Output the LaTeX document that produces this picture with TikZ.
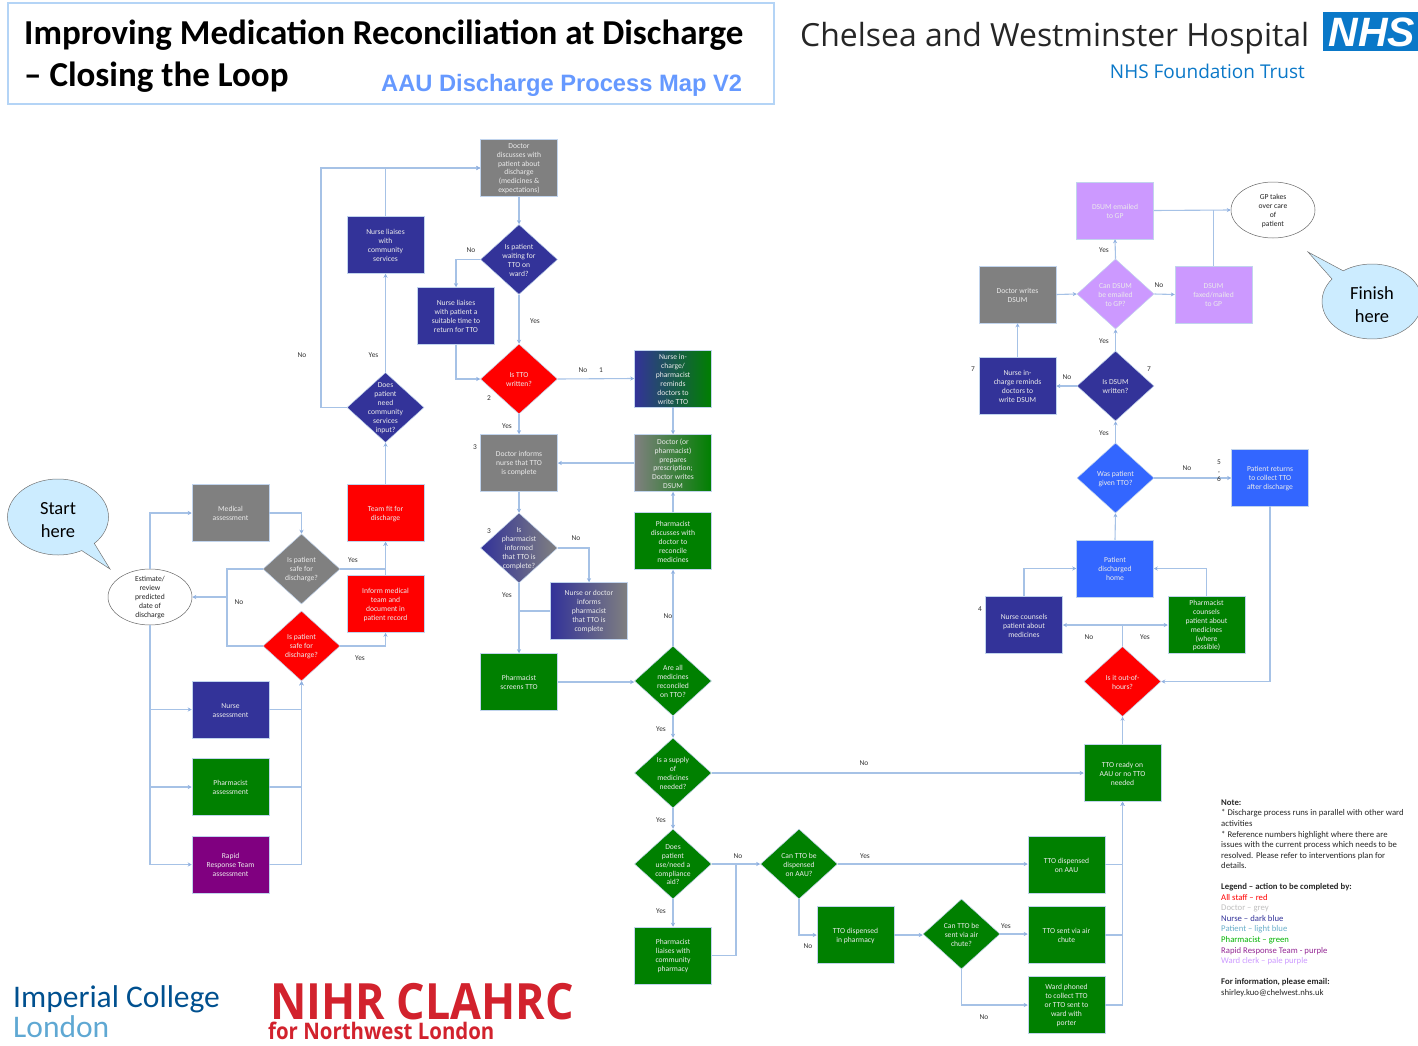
\documentclass[tikz,border=0pt]{standalone}
\usepackage{fontspec}
\setmainfont{Carlito}
\newfontfamily\arialf{Liberation Sans}
\newfontfamily\hospf{Open Sans}
\newfontfamily\nihrf[FakeStretch=0.895]{Open Sans}
\usetikzlibrary{arrows.meta,shapes.geometric,shapes.callouts}
\definecolor{edgec}{HTML}{A6C2E6}
\definecolor{tipc}{HTML}{8FB0E0}
\definecolor{dgrey}{HTML}{808080}
\definecolor{dblue}{HTML}{333399}
\definecolor{lblue}{HTML}{3366FF}
\definecolor{dgreen}{HTML}{008000}
\definecolor{dpurple}{HTML}{800080}
\definecolor{ppurple}{HTML}{CC99FF}
\definecolor{dred}{HTML}{FF0000}
\definecolor{bubble}{HTML}{CCECFF}
\definecolor{labc}{HTML}{333333}
\definecolor{nhs}{HTML}{0A78C8}
\definecolor{impa}{HTML}{00508F}
\definecolor{impb}{HTML}{5FA8D3}
\definecolor{nihr}{HTML}{D2222D}
\definecolor{hdrc}{HTML}{B4D4F6}
\definecolor{subt}{HTML}{6699FF}
\tikzset{
 shp/.style={draw=edgec!70!white,line width=.5pt,inner sep=0pt},
 box/.style={shp,rectangle,minimum width=77,minimum height=57},
 dia/.style={shp,diamond,minimum width=77,minimum height=70},
 dtxt/.style={text=white!92!black,align=center,inner sep=0pt,yshift=-0.7pt,font=\fontsize{7.6}{8.9}\selectfont},
 etxt/.style={text=black!85,align=center,inner sep=0pt,yshift=-0.7pt,font=\fontsize{7.6}{8.9}\selectfont},
 oval/.style={ellipse,draw=black!60,line width=.5pt,fill=white,minimum width=84,minimum height=56,inner sep=0pt},
 bub/.style={ellipse callout,draw=black!55,line width=.5pt,fill=bubble,inner sep=0pt,callout pointer arc=18},
 btxt/.style={align=center,inner sep=0pt,yshift=-3pt,font=\fontsize{18.5}{23}\selectfont},
 lab/.style={text=labc,inner sep=0pt,font=\fontsize{7.4}{8.9}\selectfont},
 ln/.style={draw=edgec,line width=1.1pt},
 ar/.style={ln,-{Stealth[length=4pt,width=4pt,color=tipc]}},
}
\newcommand{\Dia}[5]{\node[dia,#2,label={[dtxt]center:#5}] (#1) at (#3,#4) {};}
\newcommand{\Bx}[5]{\node[box,#2,label={[dtxt]center:#5}] (#1) at (#3,#4) {};}
\begin{document}
\begin{tikzpicture}[x=1pt,y=-1pt]
\useasboundingbox (0,0) rectangle (1418,1046);
% header
\node[draw=hdrc,line width=1.6pt,minimum width=766,minimum height=101,inner sep=0pt] (hdr) at (391,53.5) {};
\node[anchor=west,inner sep=0pt,font=\fontsize{35}{38}\selectfont\bfseries] (t1) at (24,35.5) {Improving Medication Reconciliation at Discharge};
\node[anchor=west,inner sep=0pt,font=\fontsize{35}{38}\selectfont\bfseries] (t2) at (24,77.5) {– Closing the Loop};
\node[anchor=west,inner sep=0pt,text=subt,font=\arialf\fontsize{23.7}{28}\selectfont\bfseries] (t3) at (381,85.5) {AAU Discharge Process Map V2};
\node[anchor=west,inner sep=0pt,text=black!85,font=\hospf\fontsize{31.9}{35}\selectfont] (hosp) at (800,38.5) {Chelsea and Westminster Hospital};
\node[anchor=east,inner sep=0pt,text=nhs,font=\hospf\fontsize{19}{23}\selectfont] (ft) at (1305,71) {NHS Foundation Trust};
\node[fill=nhs,minimum width=96,minimum height=39,inner sep=0pt] (nhsb) at (1371,31.5) {};
\node[text=white,inner sep=0pt,font=\arialf\fontsize{41}{44}\selectfont\bfseries\itshape] (nhst) at (1372,32) {NHS};
% logos
\node[anchor=base west,inner sep=0pt,text=impa,font=\fontsize{31.5}{34}\selectfont] (imp) at (13,1007) {Imperial College};
\node[anchor=base west,inner sep=0pt,text=impb,font=\fontsize{31.5}{34}\selectfont] (lon) at (13,1037) {London};
\node[anchor=base west,inner sep=0pt,text depth=0pt,text=nihr,font=\nihrf\fontsize{50}{54}\selectfont\bfseries] (nh) at (270,1019) {NIHR CLAHRC};
\node[anchor=base west,inner sep=0pt,text height=15pt,text=nihr,font=\nihrf\fontsize{22.8}{26}\selectfont\bfseries] (nw) at (268,1039) {for Northwest London};
% callouts
\node[bub,minimum width=101,minimum height=76,callout absolute pointer={(110,569)},label={[btxt]center:Start\\here}] (start) at (58,517) {};
\node[bub,minimum width=100,minimum height=75,callout absolute pointer={(1308,252)},label={[btxt]center:Finish\\here}] (finish) at (1372,301.5) {};
% left column
\node[oval,label={[etxt]center:Estimate/\\review\\predicted\\date of\\discharge}] (est) at (150,597) {};
\Bx{med}{fill=dgrey}{230.5}{513}{Medical\\assessment}
\Bx{nas}{fill=dblue}{230.5}{709.5}{Nurse\\assessment}
\Bx{pas}{fill=dgreen}{230.5}{787}{Pharmacist\\assessment}
\Bx{rrt}{fill=dpurple}{230.5}{864.5}{Rapid\\Response Team\\assessment}
\Dia{sg}{fill=dgrey}{301.5}{569}{Is patient\\safe for\\discharge?}
\Dia{sr}{fill=dred}{301.5}{646}{Is patient\\safe for\\discharge?}
\Bx{team}{fill=dred}{385.5}{513}{Team fit for\\discharge}
\Bx{inf}{fill=dred}{385.5}{604}{Inform medical\\team and\\document in\\patient record}
\Dia{dcs}{fill=dblue}{385.5}{407.5}{Does\\patient\\need\\community\\services\\input?}
\Bx{nlc}{fill=dblue}{385.5}{245}{Nurse liaises\\with\\community\\services}
% middle column
\Bx{doc}{fill=dgrey}{519}{168}{Doctor\\discusses with\\patient about\\discharge\\(medicines \&\\expectations)}
\Dia{wait}{fill=dblue}{519}{259.5}{Is patient\\waiting for\\TTO on\\ward?}
\Bx{nlp}{fill=dblue}{456}{316}{Nurse liaises\\with patient a\\suitable time to\\return for TTO}
\Dia{ttow}{fill=dred}{519}{379}{Is TTO\\written?}
\Bx{nic}{left color=dblue,right color=dgreen}{673}{378.5}{Nurse in-\\charge/\\pharmacist\\reminds\\doctors to\\write TTO}
\Bx{dop}{left color=dgrey,right color=dgreen}{673}{463}{Doctor (or\\pharmacist)\\prepares\\prescription;\\Doctor writes\\DSUM}
\Bx{dinf}{fill=dgrey}{519}{463}{Doctor informs\\nurse that TTO\\is complete}
\Dia{pinf}{left color=dblue,right color=dgrey}{519}{548}{Is\\pharmacist\\informed\\that TTO is\\complete?}
\Bx{nod}{left color=dblue,right color=dgrey}{589}{611}{Nurse or doctor\\informs\\pharmacist\\that TTO is\\complete}
\Bx{scr}{fill=dgreen}{519}{682}{Pharmacist\\screens TTO}
\Bx{pdis}{fill=dgreen}{673}{541}{Pharmacist\\discusses with\\doctor to\\reconcile\\medicines}
\Dia{are}{fill=dgreen}{673}{681}{Are all\\medicines\\reconciled\\on TTO?}
\Dia{sup}{fill=dgreen}{673}{773}{Is a supply\\of\\medicines\\needed?}
\Dia{use}{fill=dgreen}{673}{864}{Does\\patient\\use/need a\\compliance\\aid?}
\Bx{pli}{fill=dgreen}{673}{955.5}{Pharmacist\\liaises with\\community\\pharmacy}
\Dia{can}{fill=dgreen}{799}{864}{Can TTO be\\dispensed\\on AAU?}
\Bx{dph}{fill=dgreen}{855.5}{935}{TTO dispensed\\in pharmacy}
\Dia{air}{fill=dgreen}{961.5}{934}{Can TTO be\\sent via air\\chute?}
\Bx{aau}{fill=dgreen}{1066.5}{864.5}{TTO dispensed\\on AAU}
\Bx{chu}{fill=dgreen}{1066.5}{935}{TTO sent via air\\chute}
\Bx{war}{fill=dgreen}{1066.5}{1005}{Ward phoned\\to collect TTO\\or TTO sent to\\ward with\\porter}
% right column
\Bx{rdy}{fill=dgreen}{1122.5}{773}{TTO ready on\\AAU or no TTO\\needed}
\Dia{ooh}{fill=dred}{1122.5}{681.5}{Is it out-of-\\hours?}
\Bx{nco}{fill=dblue}{1024}{625}{Nurse counsels\\patient about\\medicines}
\Bx{pco}{fill=dgreen}{1206.5}{625}{Pharmacist\\counsels\\patient about\\medicines\\(where\\possible)}
\Bx{pdh}{fill=lblue}{1115}{568.5}{Patient\\discharged\\home}
\Bx{ret}{fill=lblue}{1270}{477.5}{Patient returns\\to collect TTO\\after discharge}
\Dia{was}{fill=lblue}{1115.5}{478}{Was patient\\given TTO?}
\Dia{isd}{fill=dblue}{1115.5}{386}{Is DSUM\\written?}
\Bx{nir}{fill=dblue}{1017.5}{386}{Nurse in-\\charge reminds\\doctors to\\write DSUM}
\Bx{dwr}{fill=dgrey}{1017.5}{294.5}{Doctor writes\\DSUM}
\Dia{cnd}{fill=ppurple}{1115.5}{294}{Can DSUM\\be emailed\\to GP?}
\Bx{fax}{fill=ppurple}{1213.5}{294.5}{DSUM\\faxed/mailed\\to GP}
\Bx{eml}{fill=ppurple}{1115}{210.5}{DSUM emailed\\to GP}
\node[oval,label={[etxt]center:GP takes\\over care\\of\\patient}] (gp) at (1273,210) {};
% junctions
\coordinate (jl) at (227,597);
\coordinate (jc) at (321,407.5);
\coordinate (jp) at (736,864);
% connectors left
\draw[ar] (est.north) |- (med.west);
\draw[ar] (est.south) |- (nas.west);
\draw[ar] (est.south) |- (pas.west);
\draw[ar] (est.south) |- (rrt.west);
\draw[ar] (med.east) -| (sg.north);
\draw[ln] (sg.west) -| (jl);
\draw[ln] (sr.west) -| (jl);
\draw[ar] (jl) -- (est.east);
\draw[ar] (sg.east) -| (team.south);
\draw[ar] (inf.north) -- (team.south);
\draw[ar] (sr.east) -| (inf.south);
\draw[ar] (nas.east) -| (sr.south);
\draw[ar] (pas.east) -| (sr.south);
\draw[ar] (rrt.east) -| (sr.south);
\draw[ar] (team.north) -- (dcs.south);
\draw[ar] (dcs.north) -- (nlc.south);
\draw[ar] (nlc.north) |- (doc.west);
\draw[ln] (dcs.west) -- (jc);
\draw[ar] (jc) |- (doc.west);
% middle
\draw[ar] (doc.south) -- (wait.north);
\draw[ar] (wait.west) -| (nlp.north);
\draw[ar] (wait.south) -- (ttow.north);
\draw[ar] (nlp.south) |- (ttow.west);
\draw[ar] (ttow.east) -- (nic.west);
\draw[ar] (ttow.south) -- (dinf.north);
\draw[ar] (nic.south) -- (dop.north);
\draw[ar] (dop.west) -- (dinf.east);
\draw[ar] (dinf.south) -- (pinf.north);
\draw[ar] (pinf.south) -- (scr.north);
\draw[ar] (pinf.east) -| (nod.north);
\draw[ln] (nod.west) -- (nod.west -| pinf.south);
\draw[ar] (scr.east) -- (scr.east -| are.west);
\draw[ar] (are.north) -- (pdis.south);
\draw[ar] (pdis.north) -- (dop.south);
\draw[ar] (are.south) -- (sup.north);
\draw[ar] (sup.east) -- (sup.east -| rdy.west);
\draw[ar] (sup.south) -- (use.north);
\draw[ar] (use.south) -- (pli.north);
\draw[ar] (use.east) -- (can.west);
\draw[ln] (pli.east) -| (jp);
\draw[ar] (can.east) -- (can.east -| aau.west);
\draw[ar] (can.south) |- (dph.west);
\draw[ar] (dph.east) -- (dph.east -| air.west);
\draw[ar] (air.east) -- (air.east -| chu.west);
\draw[ar] (air.south) |- (war.west);
\draw[ar] (aau.east) -| (rdy.south);
\draw[ar] (chu.east) -| (rdy.south);
\draw[ar] (war.east) -| (rdy.south);
% right
\draw[ar] (rdy.north) -- (ooh.south);
\draw[ar] (ooh.north) |- (nco.east);
\draw[ar] (ooh.north) |- (pco.west);
\draw[ar] (nco.north) |- (pdh.west);
\draw[ar] (pco.north) |- (pdh.east);
\draw[ar] (pdh.north) -- (was.south);
\draw[ar] (was.east) -- (was.east -| ret.west);
\draw[ar] (ret.south) |- (ooh.east);
\draw[ar] (was.north) -- (isd.south);
\draw[ar] (isd.west) -- (nir.east);
\draw[ar] (nir.north) -- (dwr.south);
\draw[ar] (dwr.east) -- (cnd.west);
\draw[ar] (isd.north) -- (cnd.south);
\draw[ar] (cnd.north) -- (eml.south);
\draw[ar] (cnd.east) -- (fax.west);
\draw[ar] (eml.east) -- (gp.west);
\draw[ln] (fax.north) -- (fax.north |- gp.west);
% labels
\node[lab] (l1) at (302,355.5) {No};
\node[lab] (l2) at (373.5,355.5) {Yes};
\node[lab] (l3) at (471,250) {No};
\node[lab] (l4) at (535,321) {Yes};
\node[lab] (l5) at (583,370) {No};
\node[lab] (l6) at (601,370) {1};
\node[lab] (l7) at (489,398) {2};
\node[lab] (l8) at (507,426) {Yes};
\node[lab] (l9) at (475,447) {3};
\node[lab] (l10) at (489,531) {3};
\node[lab] (l11) at (576,538) {No};
\node[lab] (l12) at (507,595) {Yes};
\node[lab] (l13) at (668,616) {No};
\node[lab] (l14) at (661,729) {Yes};
\node[lab] (l15) at (864,763.5) {No};
\node[lab] (l16) at (661,820) {Yes};
\node[lab] (l17) at (661,911) {Yes};
\node[lab] (l18) at (738,856) {No};
\node[lab] (l19) at (865,856) {Yes};
\node[lab] (l20) at (808,946) {No};
\node[lab] (l21) at (1006,926) {Yes};
\node[lab] (l22) at (984,1017) {No};
\node[lab] (l23) at (353,560) {Yes};
\node[lab] (l24) at (239,602) {No};
\node[lab] (l25) at (360,658) {Yes};
\node[lab] (l26) at (1089,637) {No};
\node[lab] (l27) at (1145,637) {Yes};
\node[lab] (l28) at (980,609) {4};
\node[lab] (l29) at (1187,468) {No};
\node[lab,align=center,font=\fontsize{7.4}{8.7}\selectfont] (l30) at (1219,470.5) {5\\,\\6};
\node[lab] (l31) at (1104,433) {Yes};
\node[lab] (l32) at (1067,377) {No};
\node[lab] (l33) at (973,369) {7};
\node[lab] (l34) at (1149,369) {7};
\node[lab] (l35) at (1104,341) {Yes};
\node[lab] (l36) at (1104,250) {Yes};
\node[lab] (l37) at (1159,285) {No};
% note
\node[anchor=north west,inner sep=0pt,align=left,text=black!85,font=\fontsize{8.7}{10.55}\selectfont] (note) at (1221,799.5) {\textbf{Note:}\\
* Discharge process runs in parallel with other ward\\
activities\\
* Reference numbers highlight  where there are\\
issues with the current process which needs to be\\
resolved. Please refer to interventions plan for\\
details.\\[10.55pt]
\textbf{Legend – action to be completed by:}\\
\textcolor{dred}{All staff – red}\\
\textcolor{black!25}{Doctor – grey}\\
\textcolor{dblue}{Nurse – dark blue}\\
\textcolor{cyan!70!black!70}{Patient – light blue}\\
\textcolor{green!70!black}{Pharmacist – green}\\
\textcolor{dpurple!85}{Rapid Response Team - purple}\\
\textcolor{ppurple}{Ward clerk – pale purple}\\[10.55pt]
\textbf{For information, please email:}\\
shirley.kuo@chelwest.nhs.uk};
\end{tikzpicture}
\end{document}
